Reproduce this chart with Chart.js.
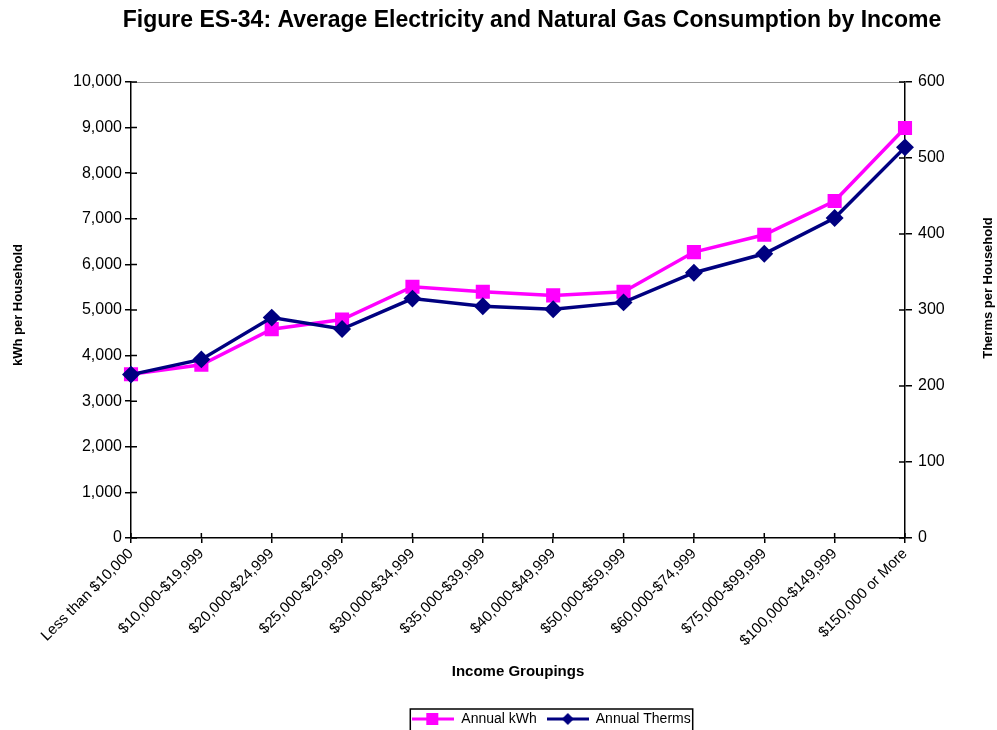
<!DOCTYPE html>
<html>
<head>
<meta charset="utf-8">
<script src="https://cdn.jsdelivr.net/npm/chart.js@4/dist/chart.umd.min.js"></script>
<style>
  html, body { margin: 0; padding: 0; background: #fff; }
  #wrap { width: 997px; height: 730px; }
</style>
</head>
<body>
<div id="wrap"><canvas id="chart" width="997" height="730"></canvas></div>
<script>
var categories = ['Less than $10,000', '$10,000-$19,999', '$20,000-$24,999', '$25,000-$29,999',
    '$30,000-$34,999', '$35,000-$39,999', '$40,000-$49,999', '$50,000-$59,999',
    '$60,000-$74,999', '$75,000-$99,999', '$100,000-$149,999', '$150,000 or More'];
var kwhValues = [3590, 3800, 4580, 4790, 5510, 5400, 5320, 5400, 6270, 6650, 7390, 8990];
var thermValues = [215, 235, 290, 275, 315, 305, 301, 310, 349, 374, 421, 514];
var seriesNames = ['Annual kWh', 'Annual Therms'];

var PINK = '#ff00ff', NAVY = '#000080';
var FONT = "'Liberation Sans', Arial, sans-serif";

// little line+marker pictures for the legend
function legendIcon(color, shape) {
    let c = document.createElement('canvas');
    c.width = 42; c.height = 14;
    let g = c.getContext('2d');
    g.strokeStyle = color; g.lineWidth = 3;
    g.beginPath(); g.moveTo(0, 7); g.lineTo(42, 7); g.stroke();
    g.fillStyle = color;
    if (shape == 'square') g.fillRect(14, 1, 12, 12);
    else { g.beginPath(); g.moveTo(21, 1); g.lineTo(27, 7); g.lineTo(21, 13); g.lineTo(15, 7); g.closePath(); g.fill(); }
    return c;
}
var icons = [legendIcon(PINK, 'square'), legendIcon(NAVY, 'diamond')];

// legend sits right of centre and a bit lower in the original
var LEGEND_DX = 53, LEGEND_DY = 6;

var decor = {
    id: 'decor',
    afterLayout(chart) {
        let lg = chart.legend;
        lg.left += LEGEND_DX; lg.right += LEGEND_DX;
        lg.top += LEGEND_DY; lg.bottom += LEGEND_DY;
    },
    afterDraw(chart) {
        let ctx = chart.ctx, a = chart.chartArea;
        ctx.save();
        ctx.fillStyle = '#000';
        ctx.textAlign = 'center'; ctx.textBaseline = 'middle';
        ctx.font = 'bold 23px ' + FONT;
        ctx.fillText('Figure ES-34: Average Electricity and Natural Gas Consumption by Income', 532, 21);

        ctx.font = 'bold 13px ' + FONT;
        ctx.save(); ctx.translate(18, 305); ctx.rotate(-Math.PI / 2);
        ctx.fillText('kWh per Household', 0, 0); ctx.restore();
        ctx.save(); ctx.translate(988, 288); ctx.rotate(-Math.PI / 2);
        ctx.fillText('Therms per Household', 0, 0); ctx.restore();

        // gray top border
        ctx.strokeStyle = '#999'; ctx.lineWidth = 1;
        ctx.beginPath(); ctx.moveTo(a.left, a.top + 0.5); ctx.lineTo(a.right, a.top + 0.5); ctx.stroke();

        // ticks crossing into the plot
        ctx.strokeStyle = '#000'; ctx.lineWidth = 1.5;
        ctx.beginPath();
        let y = chart.scales.y, y1 = chart.scales.y1, x = chart.scales.x;
        y.ticks.forEach((t, i) => { let p = y.getPixelForTick(i); ctx.moveTo(a.left, p); ctx.lineTo(a.left + 6, p); });
        y1.ticks.forEach((t, i) => { let p = y1.getPixelForTick(i); ctx.moveTo(a.right - 6, p); ctx.lineTo(a.right, p); });
        x.ticks.forEach((t, i) => { let p = x.getPixelForTick(i); ctx.moveTo(p, a.bottom - 5); ctx.lineTo(p, a.bottom); });
        ctx.stroke();

        // legend frame
        let boxes = chart.legend.legendHitBoxes;
        if (boxes && boxes.length) {
            let last = boxes[boxes.length - 1];
            let l = boxes[0].left - 2, r = last.left + last.width + 2;
            let t = boxes[0].top + boxes[0].height / 2 - 10;
            ctx.lineWidth = 1.5; ctx.strokeStyle = '#000';
            ctx.strokeRect(l, t, r - l, 40);
        }
        ctx.restore();
    }
};

new Chart(document.getElementById('chart'), {
    type: 'line',
    data: {
        labels: categories,
        datasets: [{
            label: seriesNames[0],
            data: kwhValues,
            yAxisID: 'y',
            order: 1,
            borderColor: PINK,
            backgroundColor: PINK,
            borderWidth: 3.5,
            pointStyle: 'rect',
            pointRadius: 7.5,
            pointHoverRadius: 7.5,
            tension: 0,
        }, {
            label: seriesNames[1],
            data: thermValues,
            yAxisID: 'y1',
            order: 0,
            borderColor: NAVY,
            backgroundColor: NAVY,
            borderWidth: 3.5,
            pointStyle: 'rectRot',
            pointRadius: 6.5,
            pointHoverRadius: 6.5,
            tension: 0,
        }]
    },
    options: {
        responsive: false,
        animation: false,
        layout: { autoPadding: false, padding: { top: 82, left: 0, right: 0, bottom: 0 } },
        scales: {
            x: {
                offset: false,
                afterFit: (s) => { s.height = 158 },
                grid: { drawOnChartArea: false, tickLength: 5, color: '#000', lineWidth: 1.5 },
                border: { color: '#000', width: 1.5 },
                ticks: { color: '#000', font: { family: FONT, size: 15 }, minRotation: 45, maxRotation: 45, autoSkip: false, padding: 2 },
                title: { display: true, text: 'Income Groupings', color: '#000', font: { family: FONT, size: 15, weight: 'bold' }, padding: { top: 0, bottom: 15 } }
            },
            y: {
                position: 'left',
                min: 0, max: 10000,
                afterFit: (s) => { s.width = 131 },
                grid: { drawOnChartArea: false, tickLength: 6, color: '#000', lineWidth: 1.5 },
                border: { color: '#000', width: 1.5 },
                ticks: { stepSize: 1000, color: '#000', font: { family: FONT, size: 16 }, padding: 3,
                    callback: v => v.toLocaleString('en-US') }
            },
            y1: {
                position: 'right',
                min: 0, max: 600,
                afterFit: (s) => { s.width = 92 },
                grid: { drawOnChartArea: false, tickLength: 7, color: '#000', lineWidth: 1.5 },
                border: { color: '#000', width: 1.5 },
                ticks: { stepSize: 100, color: '#000', font: { family: FONT, size: 16 }, padding: 6 }
            }
        },
        plugins: {
            title: { display: false },
            tooltip: { enabled: false },
            legend: {
                position: 'bottom',
                labels: {
                    usePointStyle: true,
                    pointStyleWidth: 42,
                    color: '#000',
                    font: { family: FONT, size: 14 },
                    padding: 10,
                    sort: (a, b) => a.datasetIndex - b.datasetIndex,
                    generateLabels: (chart) => chart.data.datasets.map((d, i) => ({
                        text: d.label, pointStyle: icons[i], datasetIndex: i,
                        fillStyle: d.borderColor, strokeStyle: d.borderColor, lineWidth: 0, hidden: false
                    }))
                }
            }
        }
    },
    plugins: [decor]
});
</script>
</body>
</html>
